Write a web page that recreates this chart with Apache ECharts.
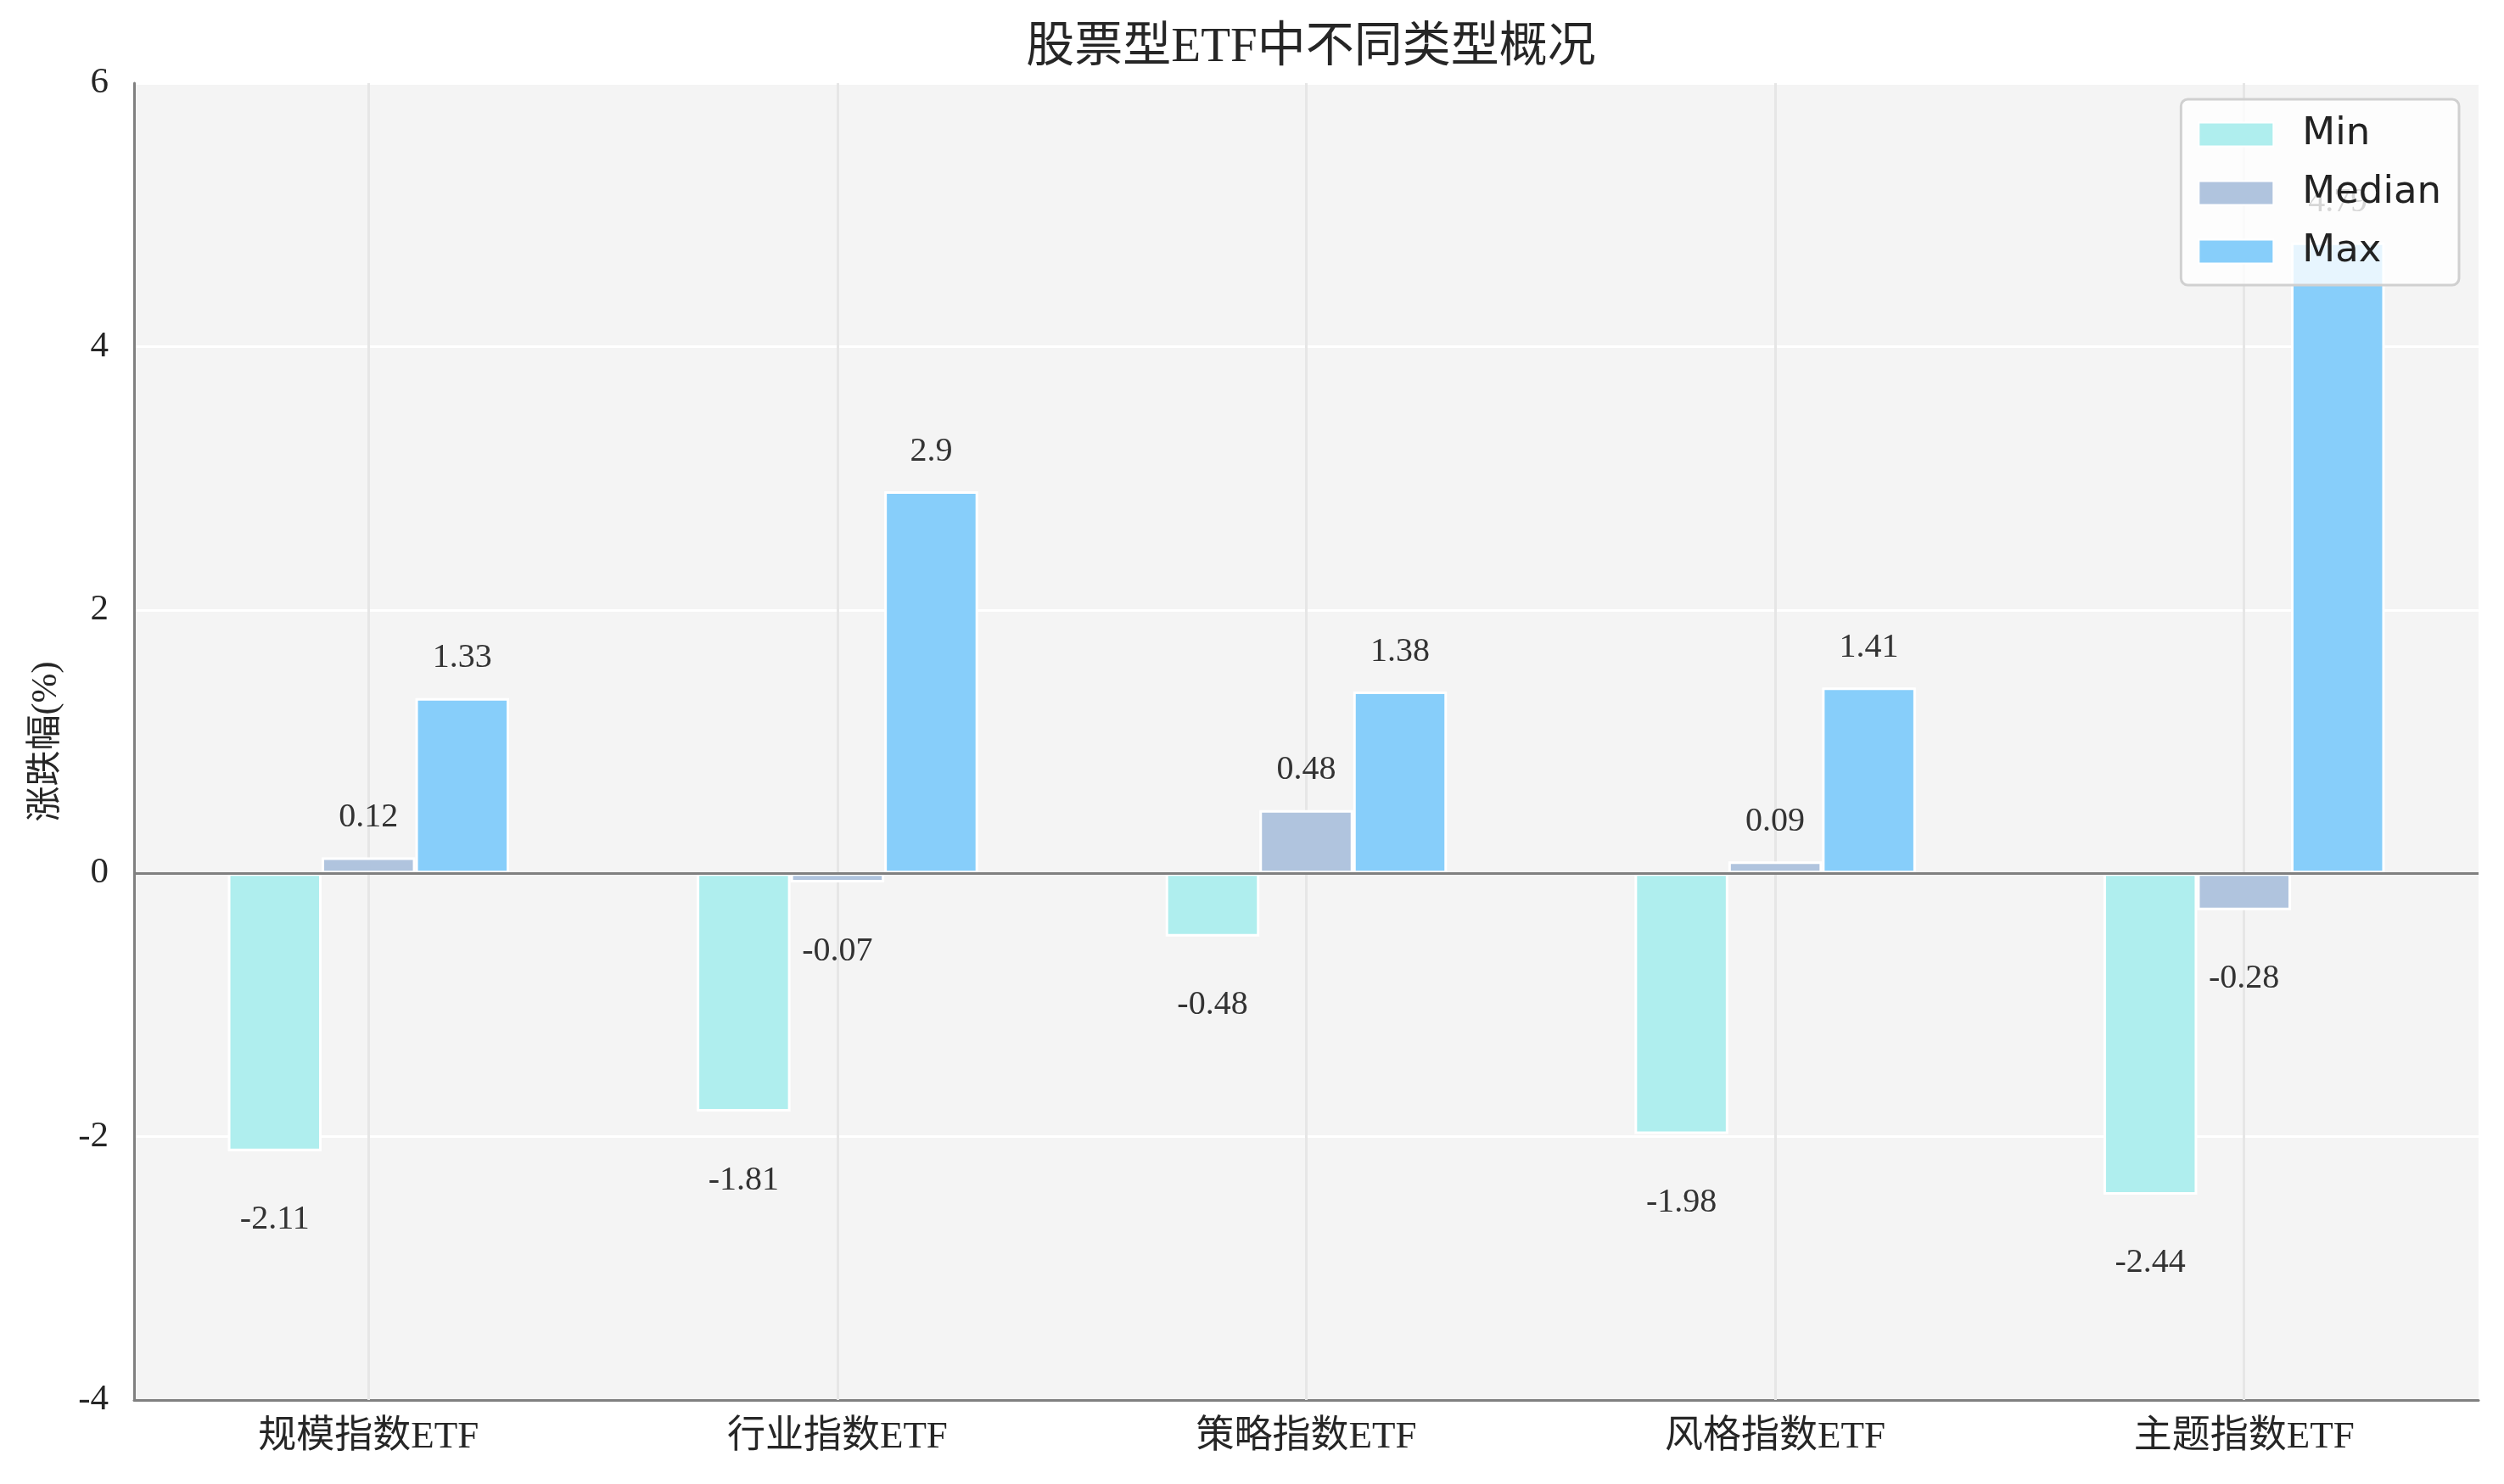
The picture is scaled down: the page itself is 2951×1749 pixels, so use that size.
<!DOCTYPE html>
<html>
<head>
<meta charset="utf-8">
<script src="https://cdn.jsdelivr.net/npm/echarts@6/dist/echarts.min.js"></script>
<style>
html,body{margin:0;padding:0;background:#fff;}
#chart{width:2951px;height:1749px;}
</style>
</head>
<body>
<div id="chart"></div>
<script>
const categories = ['规模指数ETF', '行业指数ETF', '策略指数ETF', '风格指数ETF', '主题指数ETF'];
const minValues = [-2.11, -1.81, -0.48, -1.98, -2.44];
const medianValues = [0.12, -0.07, 0.48, 0.09, -0.28];
const maxValues = [1.33, 2.9, 1.38, 1.41, 4.79];
const yTickValues = [-4, -2, 0, 2, 4, 6];
const seriesNames = ['Min', 'Median', 'Max'];
const seriesColors = ['#AFEEEE', '#B0C4DE', '#87CEFA'];

const serif = "'Liberation Serif', 'Noto Sans CJK SC', serif";
const textColor = '#262626';

function toItems(arr) {
  return arr.map(v => ({
    value: v,
    label: { position: v < 0 ? 'bottom' : 'top', distance: v < 0 ? 61 : 27 }
  }));
}

function barSeries(name, values, color, extra) {
  return Object.assign({
    name: name,
    type: 'bar',
    data: toItems(values),
    barGap: '0%',
    barCategoryGap: '40%',
    itemStyle: { color: color, borderColor: '#ffffff', borderWidth: 3 },
    label: {
      show: true,
      fontFamily: serif,
      fontSize: 40,
      color: '#333333'
    }
  }, extra || {});
}

const chart = echarts.init(document.getElementById('chart'), null, { renderer: 'canvas' });
chart.setOption({
  animation: false,
  backgroundColor: '#ffffff',
  title: {
    text: '股票型ETF中不同类型概况',
    left: 1540,
    textAlign: 'center',
    top: 24,
    textStyle: { fontFamily: serif, fontSize: 57, fontWeight: 'normal', color: textColor }
  },
  legend: {
    data: seriesNames,
    orient: 'vertical',
    right: 53,
    top: 117,
    icon: 'rect',
    itemWidth: 88,
    itemHeight: 28,
    itemGap: 24,
    padding: [19, 21, 17, 20],
    backgroundColor: 'rgba(255,255,255,0.8)',
    borderColor: '#d0d0d0',
    borderWidth: 3,
    borderRadius: 8,
    textStyle: {
      fontFamily: "'DejaVu Sans', sans-serif",
      fontSize: 45,
      lineHeight: 45,
      color: '#222222',
      padding: [0, 0, 0, 29]
    }
  },
  grid: {
    left: 158,
    right: 30,
    top: 98,
    bottom: 99,
    show: true,
    backgroundColor: '#f4f4f4',
    borderWidth: 0
  },
  xAxis: {
    type: 'category',
    data: categories,
    axisLine: { show: true, onZero: false, lineStyle: { color: '#808080', width: 3 } },
    axisTick: { show: false },
    axisLabel: { fontFamily: serif, fontSize: 45, color: textColor, margin: 22 },
    splitLine: { show: false }
  },
  yAxis: {
    type: 'value',
    min: yTickValues[0],
    max: yTickValues[yTickValues.length - 1],
    interval: yTickValues[1] - yTickValues[0],
    name: '涨跌幅(%)',
    nameLocation: 'middle',
    nameGap: 82,
    nameTextStyle: { fontFamily: serif, fontSize: 42, color: textColor },
    axisLine: { show: true, lineStyle: { color: '#808080', width: 3 } },
    axisTick: { show: false },
    axisLabel: { fontFamily: serif, fontSize: 43, color: textColor, margin: 30 },
    splitLine: { show: true, lineStyle: { color: '#ffffff', width: 3 } }
  },
  series: [
    barSeries(seriesNames[0], minValues, seriesColors[0], {
      markLine: {
        silent: true,
        z: 5,
        symbol: 'none',
        label: { show: false },
        lineStyle: { color: '#808080', width: 3, type: 'solid' },
        data: [{ yAxis: 0 }]
      }
    }),
    barSeries(seriesNames[1], medianValues, seriesColors[1], {
      markLine: {
        silent: true,
        z: 1,
        symbol: 'none',
        label: { show: false },
        lineStyle: { color: '#e6e6e6', width: 3, type: 'solid' },
        data: categories.map(c => ({ xAxis: c }))
      }
    }),
    barSeries(seriesNames[2], maxValues, seriesColors[2])
  ]
});
</script>
</body>
</html>
